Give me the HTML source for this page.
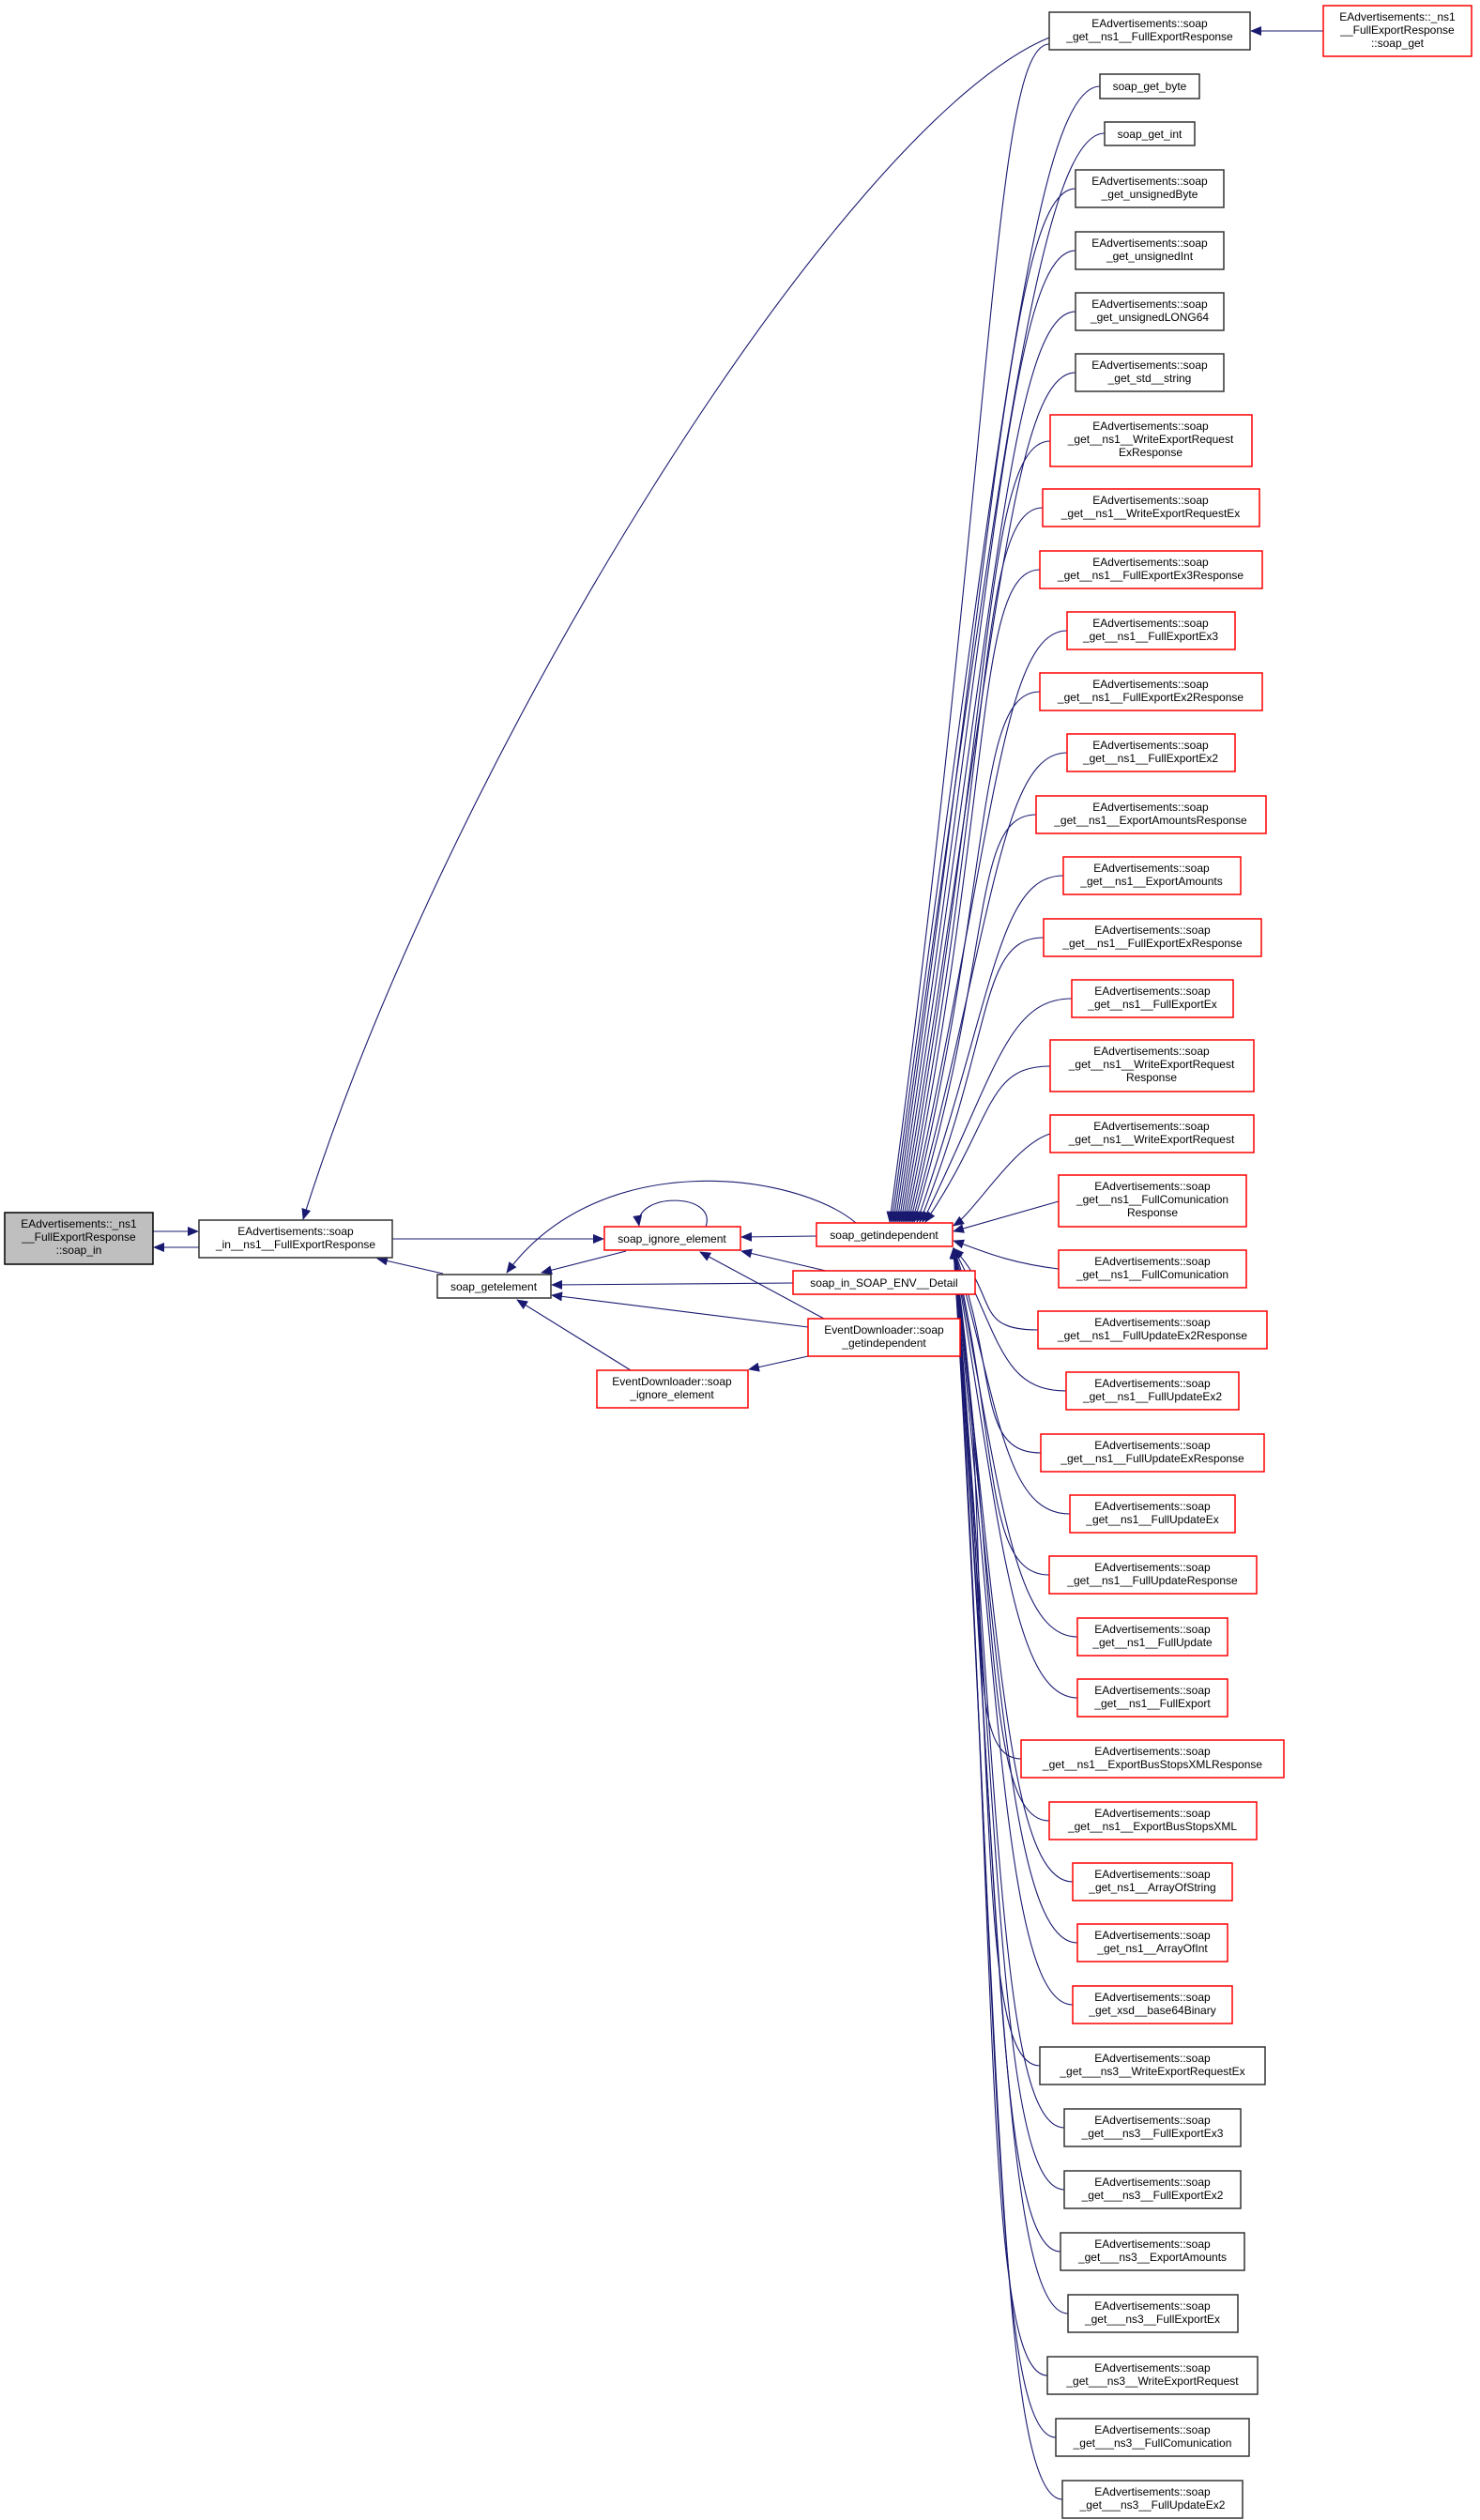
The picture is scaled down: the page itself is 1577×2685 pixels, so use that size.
<!DOCTYPE html>
<html><head><meta charset="utf-8"><style>
html,body{margin:0;padding:0;background:#fff;}
svg{display:block;}
text{font-family:"Liberation Sans",sans-serif;font-size:12px;fill:#000;text-anchor:middle;}
.e{fill:none;stroke:#191970;stroke-width:1.1;}
.b{fill:#fff;stroke:#333;stroke-width:1.5;}
.r{fill:#fff;stroke:#ff0000;stroke-width:1.5;}
</style></head><body>
<svg width="1577" height="2685" viewBox="0 0 1577 2685" xmlns="http://www.w3.org/2000/svg">
<defs><marker id="a" markerWidth="12" markerHeight="10" refX="11" refY="5" orient="auto" markerUnits="userSpaceOnUse"><polygon points="0,0 12,5 0,10" fill="#191970"/></marker></defs>
<g class="e" marker-end="url(#a)">
<path d="M1410,33 L1333,33"/>
<path d="M1118,40 C900,130 480,800 323,1299"/>
<path d="M1118,47 C1058,47 1060,476 948,1302"/>
<path d="M1172,92 C1100,92 1060,515 950,1302"/>
<path d="M1177,142 C1105,142 1060,547 952,1302"/>
<path d="M1146,201 C1076,201 1060,586 954,1302"/>
<path d="M1146,267 C1076,267 1060,629 956,1302"/>
<path d="M1146,332 C1076,332 1060,671 958,1302"/>
<path d="M1146,397 C1076,397 1060,713 960,1302"/>
<path d="M1119,470 C1049,470 1060,760 962,1302"/>
<path d="M1111,541 C1041,541 1060,807 964,1302"/>
<path d="M1108,607 C1038,607 1060,850 966,1302"/>
<path d="M1137,672 C1067,672 1060,892 968,1302"/>
<path d="M1108,737 C1038,737 1060,934 970,1302"/>
<path d="M1137,802 C1067,802 1060,976 972,1302"/>
<path d="M1104,868 C1034,868 1060,1019 974,1302"/>
<path d="M1133,933 C1063,933 1060,1061 977,1302"/>
<path d="M1112,999 C1042,999 1060,1104 980,1302"/>
<path d="M1142,1064 C1072,1064 1060,1147 983,1302"/>
<path d="M1119,1136 C1049,1136 1060,1193 986,1302"/>
<path d="M1119,1208 C1080,1220 1040,1290 1016,1306"/>
<path d="M1128,1280 L1016,1312"/>
<path d="M1128,1352 C1070,1345 1040,1330 1016,1322"/>
<path d="M1106,1417 C1036,1417 1065,1382 1016,1330"/>
<path d="M1136,1482 C1066,1482 1065,1421 1016,1330"/>
<path d="M1109,1548 C1039,1548 1065,1461 1016,1330"/>
<path d="M1140,1613 C1070,1613 1065,1500 1016,1330"/>
<path d="M1118,1678 C1048,1678 1065,1539 1016,1330"/>
<path d="M1148,1744 C1078,1744 1065,1578 1016,1330"/>
<path d="M1148,1809 C1078,1809 1065,1617 1016,1330"/>
<path d="M1088,1874 C1018,1874 1065,1656 1016,1330"/>
<path d="M1118,1940 C1048,1940 1065,1696 1016,1330"/>
<path d="M1143,2005 C1073,2005 1065,1735 1016,1330"/>
<path d="M1148,2070 C1078,2070 1065,1774 1016,1330"/>
<path d="M1143,2136 C1073,2136 1065,1814 1016,1330"/>
<path d="M1108,2201 C1038,2201 1065,1853 1016,1330"/>
<path d="M1134,2267 C1064,2267 1065,1892 1016,1330"/>
<path d="M1134,2333 C1064,2333 1065,1932 1016,1330"/>
<path d="M1130,2399 C1060,2399 1065,1972 1016,1330"/>
<path d="M1138,2465 C1068,2465 1065,2011 1016,1330"/>
<path d="M1116,2531 C1046,2531 1065,2051 1016,1330"/>
<path d="M1125,2597 C1055,2597 1065,2091 1016,1330"/>
<path d="M1132,2663 C1062,2663 1065,2130 1016,1330"/>
<path d="M163,1312 L211,1312"/>
<path d="M212,1329 L164,1329"/>
<path d="M418,1320 L643,1320"/>
<path d="M472,1357 L402,1341"/>
<path d="M912,1303 C850,1250 640,1220 540,1356"/>
<path d="M752,1307 C765,1270 675,1270 681,1306"/>
<path d="M667,1333 L577,1356"/>
<path d="M870,1317 L790,1318"/>
<path d="M880,1354 L790,1333"/>
<path d="M845,1367 L588,1369"/>
<path d="M861,1414 L588,1380"/>
<path d="M878,1405 L746,1334"/>
<path d="M672,1460 L551,1385"/>
<path d="M861,1445 L798,1459"/>
</g>
<rect x="5" y="1292" width="158" height="55" fill="#bfbfbf" stroke="#000" stroke-width="1.5"/>
<text x="84" y="1308">EAdvertisements::_ns1</text><text x="84" y="1322">__FullExportResponse</text><text x="84" y="1336">::soap_in</text>
<rect class="b" x="212" y="1300" width="206" height="40"/>
<text x="315" y="1316">EAdvertisements::soap</text><text x="315" y="1330">_in__ns1__FullExportResponse</text>
<rect class="b" x="466" y="1358" width="121" height="25"/><text x="526" y="1375">soap_getelement</text>
<rect class="r" x="644" y="1307" width="145" height="25"/><text x="716" y="1324">soap_ignore_element</text>
<rect class="r" x="870" y="1303" width="145" height="25"/><text x="942" y="1320">soap_getindependent</text>
<rect class="r" x="845" y="1354" width="194" height="25"/><text x="942" y="1371">soap_in_SOAP_ENV__Detail</text>
<rect class="r" x="861" y="1405" width="162" height="40"/><text x="942" y="1421">EventDownloader::soap</text><text x="942" y="1435">_getindependent</text>
<rect class="r" x="636" y="1460" width="161" height="40"/><text x="716" y="1476">EventDownloader::soap</text><text x="716" y="1490">_ignore_element</text>
<rect class="r" x="1410" y="6" width="158" height="54"/><text x="1489" y="22">EAdvertisements::_ns1</text><text x="1489" y="36">__FullExportResponse</text><text x="1489" y="50">::soap_get</text>
<rect class="b" x="1118" y="13" width="214" height="40"/><text x="1225" y="29">EAdvertisements::soap</text><text x="1225" y="43">_get__ns1__FullExportResponse</text>
<rect class="b" x="1172" y="79" width="106" height="26"/><text x="1225" y="96">soap_get_byte</text>
<rect class="b" x="1177" y="130" width="96" height="25"/><text x="1225" y="147">soap_get_int</text>
<rect class="b" x="1146" y="181" width="158" height="40"/><text x="1225" y="197">EAdvertisements::soap</text><text x="1225" y="211">_get_unsignedByte</text>
<rect class="b" x="1146" y="247" width="158" height="40"/><text x="1225" y="263">EAdvertisements::soap</text><text x="1225" y="277">_get_unsignedInt</text>
<rect class="b" x="1146" y="312" width="158" height="40"/><text x="1225" y="328">EAdvertisements::soap</text><text x="1225" y="342">_get_unsignedLONG64</text>
<rect class="b" x="1146" y="377" width="158" height="40"/><text x="1225" y="393">EAdvertisements::soap</text><text x="1225" y="407">_get_std__string</text>
<rect class="r" x="1119" y="442" width="215" height="55"/><text x="1226" y="458">EAdvertisements::soap</text><text x="1226" y="472">_get__ns1__WriteExportRequest</text><text x="1226" y="486">ExResponse</text>
<rect class="r" x="1111" y="521" width="231" height="40"/><text x="1226" y="537">EAdvertisements::soap</text><text x="1226" y="551">_get__ns1__WriteExportRequestEx</text>
<rect class="r" x="1108" y="587" width="237" height="40"/><text x="1226" y="603">EAdvertisements::soap</text><text x="1226" y="617">_get__ns1__FullExportEx3Response</text>
<rect class="r" x="1137" y="652" width="179" height="40"/><text x="1226" y="668">EAdvertisements::soap</text><text x="1226" y="682">_get__ns1__FullExportEx3</text>
<rect class="r" x="1108" y="717" width="237" height="40"/><text x="1226" y="733">EAdvertisements::soap</text><text x="1226" y="747">_get__ns1__FullExportEx2Response</text>
<rect class="r" x="1137" y="782" width="179" height="40"/><text x="1226" y="798">EAdvertisements::soap</text><text x="1226" y="812">_get__ns1__FullExportEx2</text>
<rect class="r" x="1104" y="848" width="245" height="40"/><text x="1226" y="864">EAdvertisements::soap</text><text x="1226" y="878">_get__ns1__ExportAmountsResponse</text>
<rect class="r" x="1133" y="913" width="189" height="40"/><text x="1227" y="929">EAdvertisements::soap</text><text x="1227" y="943">_get__ns1__ExportAmounts</text>
<rect class="r" x="1112" y="979" width="232" height="40"/><text x="1228" y="995">EAdvertisements::soap</text><text x="1228" y="1009">_get__ns1__FullExportExResponse</text>
<rect class="r" x="1142" y="1044" width="172" height="40"/><text x="1228" y="1060">EAdvertisements::soap</text><text x="1228" y="1074">_get__ns1__FullExportEx</text>
<rect class="r" x="1119" y="1108" width="217" height="55"/><text x="1227" y="1124">EAdvertisements::soap</text><text x="1227" y="1138">_get__ns1__WriteExportRequest</text><text x="1227" y="1152">Response</text>
<rect class="r" x="1119" y="1188" width="217" height="40"/><text x="1227" y="1204">EAdvertisements::soap</text><text x="1227" y="1218">_get__ns1__WriteExportRequest</text>
<rect class="r" x="1128" y="1252" width="200" height="55"/><text x="1228" y="1268">EAdvertisements::soap</text><text x="1228" y="1282">_get__ns1__FullComunication</text><text x="1228" y="1296">Response</text>
<rect class="r" x="1128" y="1332" width="200" height="40"/><text x="1228" y="1348">EAdvertisements::soap</text><text x="1228" y="1362">_get__ns1__FullComunication</text>
<rect class="r" x="1106" y="1397" width="244" height="40"/><text x="1228" y="1413">EAdvertisements::soap</text><text x="1228" y="1427">_get__ns1__FullUpdateEx2Response</text>
<rect class="r" x="1136" y="1462" width="184" height="40"/><text x="1228" y="1478">EAdvertisements::soap</text><text x="1228" y="1492">_get__ns1__FullUpdateEx2</text>
<rect class="r" x="1109" y="1528" width="238" height="40"/><text x="1228" y="1544">EAdvertisements::soap</text><text x="1228" y="1558">_get__ns1__FullUpdateExResponse</text>
<rect class="r" x="1140" y="1593" width="176" height="40"/><text x="1228" y="1609">EAdvertisements::soap</text><text x="1228" y="1623">_get__ns1__FullUpdateEx</text>
<rect class="r" x="1118" y="1658" width="221" height="40"/><text x="1228" y="1674">EAdvertisements::soap</text><text x="1228" y="1688">_get__ns1__FullUpdateResponse</text>
<rect class="r" x="1148" y="1724" width="160" height="40"/><text x="1228" y="1740">EAdvertisements::soap</text><text x="1228" y="1754">_get__ns1__FullUpdate</text>
<rect class="r" x="1148" y="1789" width="160" height="40"/><text x="1228" y="1805">EAdvertisements::soap</text><text x="1228" y="1819">_get__ns1__FullExport</text>
<rect class="r" x="1088" y="1854" width="280" height="40"/><text x="1228" y="1870">EAdvertisements::soap</text><text x="1228" y="1884">_get__ns1__ExportBusStopsXMLResponse</text>
<rect class="r" x="1118" y="1920" width="221" height="40"/><text x="1228" y="1936">EAdvertisements::soap</text><text x="1228" y="1950">_get__ns1__ExportBusStopsXML</text>
<rect class="r" x="1143" y="1985" width="170" height="40"/><text x="1228" y="2001">EAdvertisements::soap</text><text x="1228" y="2015">_get_ns1__ArrayOfString</text>
<rect class="r" x="1148" y="2050" width="160" height="40"/><text x="1228" y="2066">EAdvertisements::soap</text><text x="1228" y="2080">_get_ns1__ArrayOfInt</text>
<rect class="r" x="1143" y="2116" width="170" height="40"/><text x="1228" y="2132">EAdvertisements::soap</text><text x="1228" y="2146">_get_xsd__base64Binary</text>
<rect class="b" x="1108" y="2181" width="240" height="40"/><text x="1228" y="2197">EAdvertisements::soap</text><text x="1228" y="2211">_get___ns3__WriteExportRequestEx</text>
<rect class="b" x="1134" y="2247" width="188" height="40"/><text x="1228" y="2263">EAdvertisements::soap</text><text x="1228" y="2277">_get___ns3__FullExportEx3</text>
<rect class="b" x="1134" y="2313" width="188" height="40"/><text x="1228" y="2329">EAdvertisements::soap</text><text x="1228" y="2343">_get___ns3__FullExportEx2</text>
<rect class="b" x="1130" y="2379" width="196" height="40"/><text x="1228" y="2395">EAdvertisements::soap</text><text x="1228" y="2409">_get___ns3__ExportAmounts</text>
<rect class="b" x="1138" y="2445" width="181" height="40"/><text x="1228" y="2461">EAdvertisements::soap</text><text x="1228" y="2475">_get___ns3__FullExportEx</text>
<rect class="b" x="1116" y="2511" width="224" height="40"/><text x="1228" y="2527">EAdvertisements::soap</text><text x="1228" y="2541">_get___ns3__WriteExportRequest</text>
<rect class="b" x="1125" y="2577" width="206" height="40"/><text x="1228" y="2593">EAdvertisements::soap</text><text x="1228" y="2607">_get___ns3__FullComunication</text>
<rect class="b" x="1132" y="2643" width="192" height="40"/><text x="1228" y="2659">EAdvertisements::soap</text><text x="1228" y="2673">_get___ns3__FullUpdateEx2</text>
</svg>
</body></html>
